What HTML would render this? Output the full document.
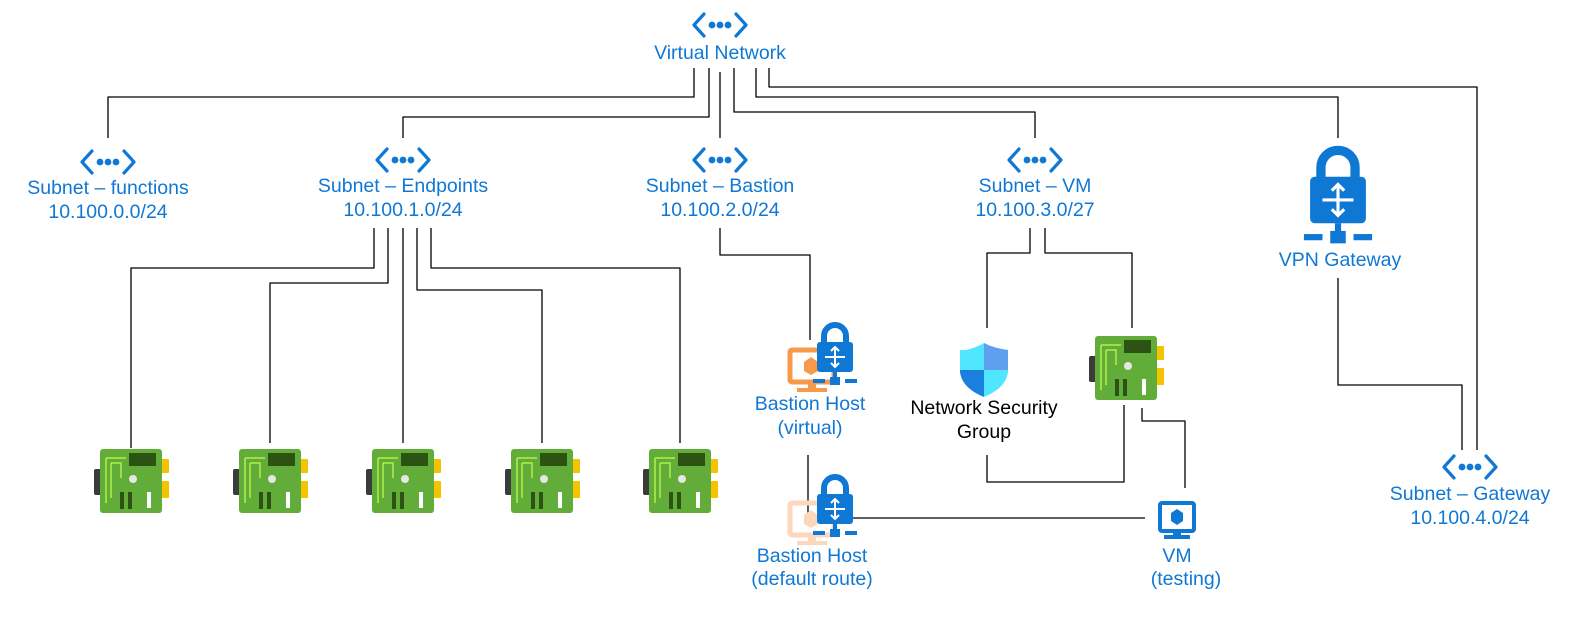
<!DOCTYPE html>
<html><head><meta charset="utf-8"><style>
body{margin:0;background:#fff;width:1577px;height:631px;overflow:hidden}
svg text{font-family:"Liberation Sans",sans-serif;font-size:19.5px;fill:#0f78d4;text-anchor:middle}
</style></head><body>
<svg width="1577" height="631" viewBox="0 0 1577 631">
<defs>
<g id="vn"><path d="M-16,-11 L-26,0 L-16,11 M16,-11 L26,0 L16,11" stroke="#0f78d4" stroke-width="3.2" fill="none" stroke-linecap="round" stroke-linejoin="round"/><circle cx="-8" cy="0" r="3.4" fill="#0f78d4"/><circle cx="0" cy="0" r="3.4" fill="#0f78d4"/><circle cx="8" cy="0" r="3.4" fill="#0f78d4"/></g>
<g id="nic"><rect x="-37" y="-14" width="8" height="26" rx="2" fill="#3b3b3b"/><rect x="30" y="-24" width="8" height="14" rx="1" fill="#f5c400"/><rect x="30" y="-2" width="8" height="17" rx="1" fill="#f5c400"/><rect x="-31" y="-34" width="62" height="64" rx="3" fill="#62ad3a"/><rect x="-2" y="-30" width="27" height="13" fill="#2c5314"/><path d="M-25,-25 L-25,20 M-20,-20 L-20,15 M-25,-25 L-5,-25 M-20,-20 L-10,-20 L-10,-5" stroke="#b2f047" stroke-width="1.5" fill="none"/><circle cx="2" cy="-4" r="4" fill="#e6e6e6"/><rect x="-11" y="9" width="4" height="17" fill="#2c5314"/><rect x="-3" y="9" width="4" height="17" fill="#2c5314"/><rect x="16" y="9" width="4" height="16" fill="#fff"/></g>
<g id="lock"><path d="M-11,-5 L-11,-12 A11,11 0 0 1 11,-12 L11,-5" stroke="#0f78d4" stroke-width="6" fill="none"/><rect x="-18" y="-6" width="36" height="30" rx="3" fill="#0f78d4"/><path d="M0,0 L0,18 M-10,9 L10,9" stroke="#fff" stroke-width="2"/><path d="M-4,3 L0,-1 L4,3 M-4,15 L0,19 L4,15" stroke="#fff" stroke-width="2" fill="none"/><path d="M0,24 L0,32" stroke="#0f78d4" stroke-width="4"/><rect x="-22" y="31" width="12" height="4" fill="#0f78d4"/><rect x="-5" y="29" width="10" height="8" fill="#0f78d4"/><rect x="10" y="31" width="12" height="4" fill="#0f78d4"/></g>
</defs>
<g stroke="#000" stroke-width="1.3" fill="none" stroke-linejoin="round">
<path d="M694,68 V97 H108 V138"/>
<path d="M709,68 V117 H403 V138"/>
<path d="M720,72 V138"/>
<path d="M734,68 V112 H1035 V138"/>
<path d="M756,68 V97 H1338 V138"/>
<path d="M769,68 V87 H1477 V450"/>
<path d="M374,228 V268 H131 V448"/>
<path d="M388,228 V283 H270 V443"/>
<path d="M403,228 V443"/>
<path d="M417,228 V290 H542 V443"/>
<path d="M431,228 V268 H680 V443"/>
<path d="M720,228 V255 H810 V340"/>
<path d="M808,455 V515 M818,518 H1145"/>
<path d="M1030,228 V253 H987 V328"/>
<path d="M1045,228 V253 H1132 V328"/>
<path d="M987,455 V482 H1124 V405"/>
<path d="M1142,408 V421 H1185 V488"/>
<path d="M1338,278 V385 H1462 V450"/>
</g>
<use href="#vn" x="720" y="25"/><text x="720" y="59">Virtual Network</text>
<use href="#vn" x="108" y="162"/><text x="108" y="194">Subnet – functions</text><text x="108" y="218">10.100.0.0/24</text>
<use href="#vn" x="403" y="160"/><text x="403" y="192">Subnet – Endpoints</text><text x="403" y="216">10.100.1.0/24</text>
<use href="#vn" x="720" y="160"/><text x="720" y="192">Subnet – Bastion</text><text x="720" y="216">10.100.2.0/24</text>
<use href="#vn" x="1035" y="160"/><text x="1035" y="192">Subnet – VM</text><text x="1035" y="216">10.100.3.0/27</text>
<use href="#vn" x="1470" y="467"/><text x="1470" y="500">Subnet – Gateway</text><text x="1470" y="524">10.100.4.0/24</text>
<use href="#nic" x="131" y="483"/><use href="#nic" x="270" y="483"/><use href="#nic" x="403" y="483"/><use href="#nic" x="542" y="483"/><use href="#nic" x="680" y="483"/>
<use href="#nic" x="1126" y="370"/>
<g transform="translate(1338,186) scale(1.55)"><use href="#lock"/></g>
<text x="1340" y="266">VPN Gateway</text>
<g><rect x="790" y="350" width="44" height="32" rx="2" fill="none" stroke="#f7994b" stroke-width="5"/><rect x="808" y="383" width="8" height="6" fill="#f7994b"/><rect x="797" y="388" width="30" height="4" fill="#f7994b"/><path d="M804,362 L811,357 L818,362 L818,371 L811,375 L804,371Z" fill="#f7994b"/></g>
<use href="#lock" x="835" y="348"/>
<text x="810" y="410">Bastion Host</text><text x="810" y="434">(virtual)</text>
<g><rect x="790" y="503" width="44" height="32" rx="2" fill="none" stroke="#fcd7bb" stroke-width="5"/><rect x="808" y="536" width="8" height="6" fill="#fcd7bb"/><rect x="797" y="541" width="30" height="4" fill="#fcd7bb"/><path d="M804,515 L811,510 L818,515 L818,524 L811,528 L804,524Z" fill="#fcd7bb"/></g>
<use href="#lock" x="835" y="500"/>
<text x="812" y="562">Bastion Host</text><text x="812" y="585">(default route)</text>
<g><path d="M966,350 Q975,348 984,343 Q993,348 1008,350 L1008,372 Q1006,388 984,397 Q962,388 960,372 L960,350Z" fill="#50e6ff"/><path d="M984,343 Q993,348 1008,350 L1008,370 L984,370Z" fill="#5ea0ef"/><path d="M960,370 L984,370 L984,397 Q962,388 960,372Z" fill="#1b80dd"/></g>
<text x="984" y="414" style="fill:#000">Network Security</text><text x="984" y="438" style="fill:#000">Group</text>
<g><rect x="1160" y="503" width="34" height="28" rx="2" fill="none" stroke="#0f78d4" stroke-width="4"/><rect x="1173" y="531" width="8" height="5" fill="#0f78d4"/><rect x="1164" y="535" width="26" height="4" fill="#0f78d4"/><path d="M1171,513 L1177,509 L1183,513 L1183,521 L1177,525 L1171,521Z" fill="#0f78d4"/></g>
<text x="1177" y="562">VM</text><text x="1186" y="585">(testing)</text>
</svg>
</body></html>
